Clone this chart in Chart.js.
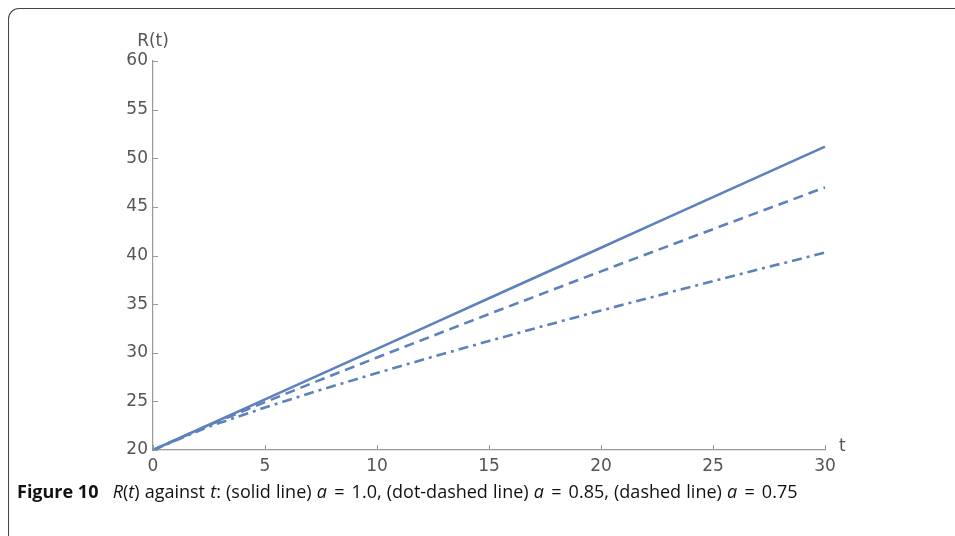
<!DOCTYPE html>
<html>
<head>
<meta charset="utf-8">
<script src="https://cdn.jsdelivr.net/npm/chart.js@4/dist/chart.umd.min.js"></script>
<style>
  html, body { margin: 0; padding: 0; background: #fff; }
  body { width: 955px; height: 536px; position: relative; overflow: hidden; }
  #frame { position: absolute; left: 8px; top: 8px; width: 960px; height: 540px;
           border-left: 1.5px solid #444; border-top: 1.5px solid #444; border-top-left-radius: 11px; }
  #wrap { position: absolute; left: 0; top: 0; width: 955px; height: 536px; }
  #caption { position: absolute; left: 17px; top: 479px; font-family: "Open Sans", "Noto Sans", sans-serif;
             font-size: 18px; color: #111; white-space: nowrap; word-spacing: 0.5px; }
  #caption b { font-weight: 700; margin-right: 9px; word-spacing: 0; }
  #caption .eq { margin: 0 2px; }
</style>
</head>
<body>
<div id="frame"></div>
<div id="wrap"><canvas id="c" width="955" height="536"></canvas></div>
<div id="caption"><b>Figure 10</b> <i>R</i>(<i>t</i>) against <i>t</i>: (solid line) <i>a</i> <span class="eq">=</span> 1.0, (dot-dashed line) <i>a</i> <span class="eq">=</span> 0.85, (dashed line) <i>a</i> <span class="eq">=</span> 0.75</div>
<script>
const tValues = [0, 2.5, 5, 7.5, 10, 12.5, 15, 17.5, 20, 22.5, 25, 27.5, 30];
const solidValues = [20, 22.6, 25.2, 27.8, 30.4, 33.0, 35.6, 38.2, 40.8, 43.4, 46.0, 48.6, 51.2];
const dashedValues = [20, 22.55, 24.92, 27.24, 29.51, 31.75, 33.98, 36.18, 38.37, 40.54, 42.71, 44.86, 47.0];
const dotDashedValues = [20, 22.41, 24.37, 26.19, 27.92, 29.59, 31.21, 32.79, 34.34, 35.86, 37.36, 38.84, 40.3];
const xTicks = [0, 5, 10, 15, 20, 25, 30];
const yTicks = [20, 25, 30, 35, 40, 45, 50, 55, 60];

const lineColor = 'rgb(94,129,189)';
const tickFont = { family: '"DejaVu Sans", sans-serif', size: 17 };
const tickColor = '#555';

function pts(vals) { return tValues.map((t, i) => ({ x: t, y: vals[i] })); }

const innerTicks = {
  id: 'innerTicks',
  afterDraw(chart) {
    const ctx = chart.ctx;
    const xs = chart.scales.x, ys = chart.scales.y;
    ctx.save();
    ctx.strokeStyle = '#999';
    ctx.lineWidth = 1;
    xTicks.forEach(v => {
      const px = Math.round(xs.getPixelForValue(v)) + 0.5;
      ctx.beginPath(); ctx.moveTo(px, ys.bottom); ctx.lineTo(px, ys.bottom - 5); ctx.stroke();
    });
    yTicks.forEach(v => {
      const py = Math.round(ys.getPixelForValue(v)) + 0.5;
      ctx.beginPath(); ctx.moveTo(xs.left, py); ctx.lineTo(xs.left + 5, py); ctx.stroke();
    });
    ctx.fillStyle = tickColor;
    ctx.font = '17px "DejaVu Sans", sans-serif';
    ctx.textAlign = 'left';
    ctx.textBaseline = 'middle';
    ctx.fillText('t', xs.right + 14, ys.bottom - 3);
    ctx.textAlign = 'center';
    ctx.textBaseline = 'bottom';
    ctx.fillText('R(t)', xs.left, ys.top - 11);
    ctx.restore();
  }
};

new Chart(document.getElementById('c'), {
  type: 'line',
  data: {
    datasets: [
      { label: 'solid line', data: pts(solidValues), borderColor: lineColor, borderWidth: 2.6, pointRadius: 0, fill: false, clip: false },
      { label: 'dashed line', data: pts(dashedValues), borderColor: lineColor, borderWidth: 2.6, borderDash: [10, 6], pointRadius: 0, fill: false, clip: false },
      { label: 'dot-dashed line', data: pts(dotDashedValues), borderColor: lineColor, borderWidth: 2.6, borderDash: [10, 5, 3, 5], pointRadius: 0, fill: false, clip: false }
    ]
  },
  options: {
    responsive: false,
    animation: false,
    layout: { padding: { left: 103, top: 61, right: 130, bottom: 55 } },
    plugins: { legend: { display: false }, tooltip: { enabled: false } },
    scales: {
      x: {
        type: 'linear', min: 0, max: 30,
        afterBuildTicks(s) { s.ticks = xTicks.map(v => ({ value: v })); },
        afterFit(s) { s.height = 31; },
        grid: { display: false, drawTicks: false },
        border: { display: true, color: '#999', width: 1.2 },
        ticks: { font: tickFont, color: tickColor, padding: 6, maxRotation: 0 }
      },
      y: {
        type: 'linear', min: 20, max: 60,
        afterBuildTicks(s) { s.ticks = yTicks.map(v => ({ value: v })); },
        afterFit(s) { s.width = 50; },
        grid: { display: false, drawTicks: false },
        border: { display: true, color: '#999', width: 1.2 },
        ticks: { font: tickFont, color: tickColor, padding: 5 }
      }
    }
  },
  plugins: [innerTicks]
});
</script>
</body>
</html>
